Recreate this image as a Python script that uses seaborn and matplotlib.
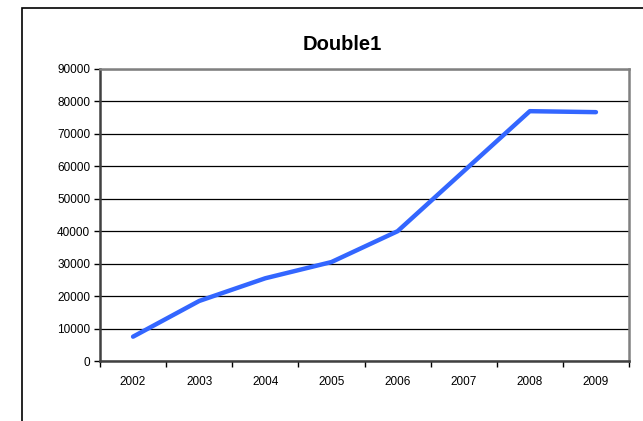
import matplotlib.pyplot as plt
import seaborn as sns
import pandas as pd
from matplotlib.patches import Rectangle

# Datos
anios = ["2002", "2003", "2004", "2005", "2006", "2007", "2008", "2009"]
valores = [7500, 18500, 25500, 30500, 40000, 58500, 77000, 76700]

df = pd.DataFrame({"anio": anios, "valor": valores})

sns.set_style("white")
plt.rcParams["font.family"] = ["Liberation Sans", "DejaVu Sans"]
plt.rcParams["text.color"] = "black"
plt.rcParams["xtick.color"] = "black"
plt.rcParams["ytick.color"] = "black"
plt.rcParams["xtick.bottom"] = True
plt.rcParams["ytick.left"] = True

fig = plt.figure(figsize=(6.43, 4.21), dpi=100)
# marco exterior del gráfico
fig.patches.append(Rectangle((22 / 643, -0.1), 1.0, (421 - 8) / 421 + 0.1,
                             transform=fig.transFigure, fill=False,
                             edgecolor="black", linewidth=1.2))

ax = fig.add_axes([100 / 643, (421 - 361) / 421, 529 / 643, 292 / 421])
sns.lineplot(data=df, x="anio", y="valor", ax=ax, color="#3366FF",
             linewidth=3.2, solid_capstyle="round", solid_joinstyle="round")

ax.set_xlim(-0.5, 7.5)
ax.set_ylim(0, 90000)
ax.set_yticks(range(0, 90001, 10000))
ax.set_yticklabels([str(v) for v in range(0, 90001, 10000)], fontsize=8.5)
ax.yaxis.grid(True, color="black", linewidth=0.9)
ax.set_axisbelow(True)

# ticks del eje x entre categorías
ax.set_xticks([i - 0.5 for i in range(len(anios) + 1)])
ax.set_xticklabels([])
ax.set_xticks(range(len(anios)), minor=True)
ax.set_xticklabels(anios, minor=True, fontsize=8.5)
ax.tick_params(axis="x", which="major", direction="out", length=4, width=1, color="black")
ax.tick_params(axis="x", which="minor", bottom=False, length=0, pad=11)
ax.tick_params(axis="y", direction="out", length=4, width=1, color="black", pad=3)

for s in ["left", "bottom", "right", "top"]:
    ax.spines[s].set_visible(True)
    ax.spines[s].set_color("#808080")
    ax.spines[s].set_linewidth(1.8)
ax.spines["left"].set_color("#404040")
ax.spines["bottom"].set_color("#404040")

ax.set_xlabel("")
ax.set_ylabel("")
fig.text(342 / 643, 1 - 45 / 421, "Double1", ha="center", va="center",
         fontsize=14.5, fontweight="bold")

plt.savefig("out.png", dpi=100)
